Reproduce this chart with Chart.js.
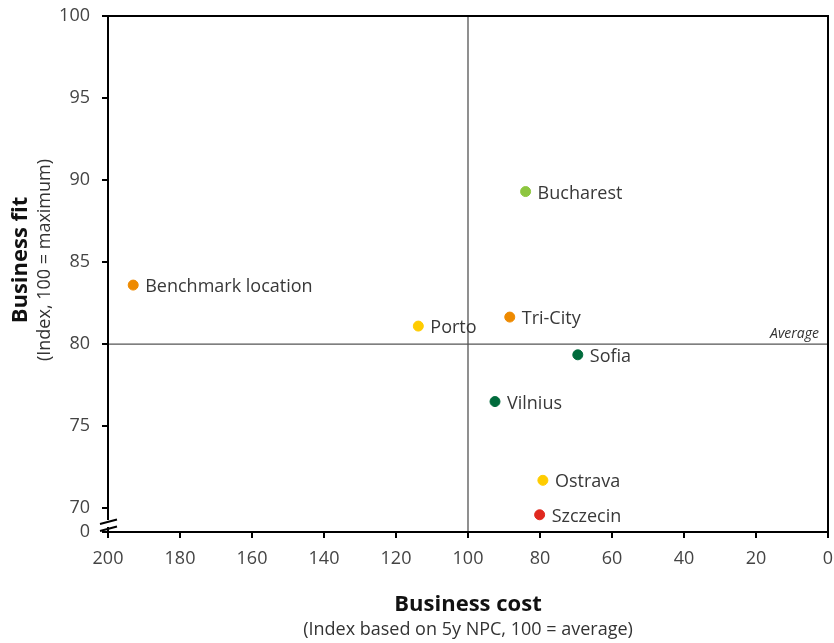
<!DOCTYPE html>
<html>
<head>
<meta charset="utf-8">
<script src="https://cdn.jsdelivr.net/npm/chart.js@4.4.0/dist/chart.umd.min.js"></script>
<style>
  html, body { margin: 0; padding: 0; background: #fff; }
  #wrap { width: 834px; height: 643px; }
</style>
</head>
<body>
<div id="wrap"><canvas id="myChart" width="834" height="643"></canvas></div>
<script>
// Datos
const ciudades = ['Benchmark location', 'Porto', 'Tri-City', 'Bucharest', 'Sofia', 'Vilnius', 'Ostrava', 'Szczecin'];
const costo = [193, 113.8, 88.4, 84.0, 69.5, 92.5, 79.2, 80.1];
const ajuste = [83.6, 81.1, 81.65, 89.3, 79.35, 76.5, 71.7, 69.6];
const xTicks = [200, 180, 160, 140, 120, 100, 80, 60, 40, 20, 0];
const yTicks = [70, 75, 80, 85, 90, 95, 100];
const promedioX = 100;
const promedioY = 80;

// Colores
const colores = ['#ee8a00', '#ffcc00', '#ee8a00', '#8dc63f', '#006b3c', '#006b3c', '#ffcc00', '#e0281e'];

const yMin = 68.55; // punto del corte del eje (se etiqueta como 0)
const fuente = '"Open Sans", "Noto Sans", sans-serif';

// Plugin: caja, líneas de promedio, etiquetas y corte del eje
const extras = {
    id: 'extras',
    beforeDatasetsDraw(chart) {
        const { ctx, chartArea: a, scales: { x, y } } = chart;
        ctx.save();
        ctx.strokeStyle = '#555';
        ctx.lineWidth = 1.3;
        const px = x.getPixelForValue(promedioX);
        const py = y.getPixelForValue(promedioY);
        ctx.beginPath();
        ctx.moveTo(px, a.top); ctx.lineTo(px, a.bottom);
        ctx.moveTo(a.left, py); ctx.lineTo(a.right, py);
        ctx.stroke();
        ctx.fillStyle = '#333';
        ctx.font = 'italic 14px ' + fuente;
        ctx.textAlign = 'right';
        ctx.textBaseline = 'alphabetic';
        ctx.fillText('Average', a.right - 9, py - 6);
        ctx.restore();
    },
    afterDraw(chart) {
        const { ctx, chartArea: a } = chart;
        ctx.save();
        // marco
        ctx.strokeStyle = '#000';
        ctx.lineWidth = 2;
        ctx.strokeRect(a.left, a.top, a.right - a.left, a.bottom - a.top);

        // corte del eje
        ctx.fillStyle = '#fff';
        ctx.fillRect(a.left - 2, a.bottom - 12, 5, 7);
        ctx.lineWidth = 2;
        ctx.beginPath();
        ctx.moveTo(a.left - 8, a.bottom - 8); ctx.lineTo(a.left + 9, a.bottom - 12.5);
        ctx.moveTo(a.left - 8, a.bottom - 1); ctx.lineTo(a.left + 9, a.bottom - 5.5);
        ctx.stroke();

        // etiquetas de puntos
        const meta = chart.getDatasetMeta(0);
        ctx.fillStyle = '#383838';
        ctx.font = '18px ' + fuente;
        ctx.textAlign = 'left';
        ctx.textBaseline = 'middle';
        meta.data.forEach((pt, i) => {
            ctx.fillText(ciudades[i], pt.x + 12, pt.y + 2);
        });

        // títulos de ejes
        const cx = (a.left + a.right) / 2;
        ctx.textAlign = 'center';
        ctx.textBaseline = 'alphabetic';
        ctx.fillStyle = '#111';
        ctx.font = 'bold 22px ' + fuente;
        ctx.fillText('Business cost', cx, 611);
        ctx.fillStyle = '#333';
        ctx.font = '18px ' + fuente;
        ctx.fillText('(Index based on 5y NPC, 100 = average)', cx, 635);

        const cy = 260;
        ctx.save();
        ctx.translate(27, cy);
        ctx.rotate(-Math.PI / 2);
        ctx.fillStyle = '#111';
        ctx.font = 'bold 22px ' + fuente;
        ctx.fillText('Business fit', 0, 0);
        ctx.restore();
        ctx.save();
        ctx.translate(50, cy);
        ctx.rotate(-Math.PI / 2);
        ctx.fillStyle = '#333';
        ctx.font = '18px ' + fuente;
        ctx.fillText('(Index, 100 = maximum)', 0, 0);
        ctx.restore();
        ctx.restore();
    }
};

const ctx = document.getElementById('myChart').getContext('2d');
new Chart(ctx, {
    type: 'scatter',
    data: {
        datasets: [{
            label: 'Ciudades',
            data: costo.map((c, i) => ({ x: c, y: ajuste[i] })),
            backgroundColor: colores,
            borderColor: colores,
            pointRadius: 5,
            pointHoverRadius: 5
        }]
    },
    options: {
        responsive: false,
        animation: false,
        devicePixelRatio: 1,
        layout: { padding: { top: 16, right: 3, left: 0, bottom: 0 } },
        plugins: {
            legend: { display: false },
            tooltip: { enabled: false }
        },
        scales: {
            x: {
                type: 'linear',
                reverse: true,
                min: 0,
                max: 200,
                afterBuildTicks: s => { s.ticks = xTicks.map(v => ({ value: v })); },
                afterFit: s => { s.height = 111; s.paddingLeft = 0; s.paddingRight = 0; },
                border: { display: false },
                grid: { drawOnChartArea: false, drawTicks: true, tickLength: 6, color: '#000', lineWidth: 2 },
                ticks: { color: '#444', font: { family: fuente, size: 18 }, padding: 10, maxRotation: 0 }
            },
            y: {
                type: 'linear',
                min: yMin,
                max: 100,
                afterBuildTicks: s => { s.ticks = [{ value: yMin }].concat(yTicks.map(v => ({ value: v }))); },
                afterFit: s => { s.width = 108; s.paddingTop = 0; s.paddingBottom = 0; },
                border: { display: false },
                grid: { drawOnChartArea: false, drawTicks: true, tickLength: 6, color: '#000', lineWidth: 2 },
                ticks: {
                    color: '#444',
                    font: { family: fuente, size: 18 },
                    padding: 12,
                    callback: v => (v === yMin ? '0' : v)
                }
            }
        }
    },
    plugins: [extras]
});
</script>
</body>
</html>
